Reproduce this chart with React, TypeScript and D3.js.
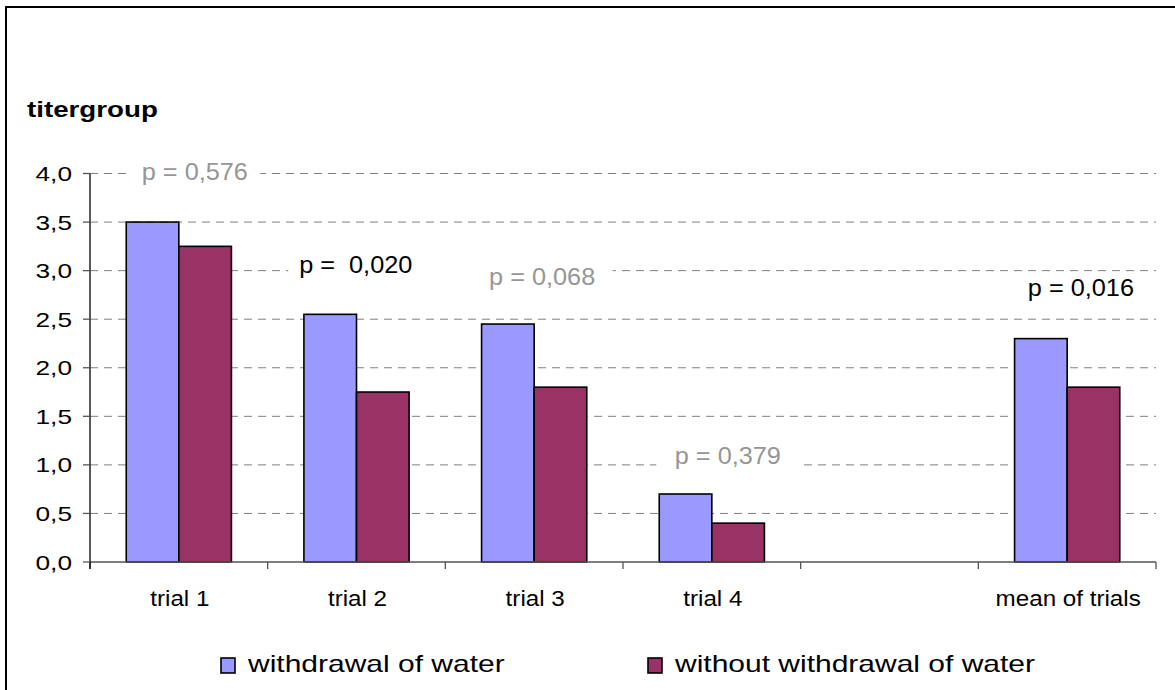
import React from "react";
import * as d3 from "d3";

const categories = ["trial 1", "trial 2", "trial 3", "trial 4", "", "mean of trials"];
const seriesNames = ["withdrawal of water", "without withdrawal of water"];
const withdrawal = [3.5, 2.55, 2.45, 0.7, null, 2.3];
const withoutWithdrawal = [3.25, 1.75, 1.8, 0.4, null, 1.8];
const yTicks = [0, 0.5, 1, 1.5, 2, 2.5, 3, 3.5, 4];
const yTickLabels = ["0,0", "0,5", "1,0", "1,5", "2,0", "2,5", "3,0", "3,5", "4,0"];
const yTitle = "titergroup";

const pLabels = ["p = 0,576", "p =  0,020", "p = 0,068", "p = 0,379", "p = 0,016"];
const pCategories = ["trial 1", "trial 2", "trial 3", "trial 4", "mean of trials"];
const pLevels = [4.02, 3.06, 2.94, 1.095, 2.82];
const pSignificant = [false, true, false, false, true];

// layout (pixels)
const W = 1175, H = 690;
const PLOT = { left: 90, right: 1156, top: 173.5, bottom: 562 };
const pDx = [16, -0.75, 8, 16, 13.75];
const pBoxPad = [[13, 12], [14, 68], [14, 17], [18, 17], [10, 17]];
const colors = ["#9999FF", "#993366"];
const FONT = "'Liberation Sans', Arial, Helvetica, sans-serif";

function SText({ x, y, sx = 1, size, anchor = "start", fill = "#000", weight = "normal", dy = "0", children }: any) {
  return (
    <text
      transform={`translate(${x},${y}) scale(${sx},1)`}
      fontSize={size}
      fontFamily={FONT}
      fontWeight={weight}
      textAnchor={anchor}
      fill={fill}
      dy={dy}
      style={{ whiteSpace: "pre" }}
    >
      {children}
    </text>
  );
}

export default function App() {
  const x = d3.scaleBand<string>().domain(categories).range([PLOT.left, PLOT.right]).padding(0);
  const y = d3.scaleLinear().domain([0, 4]).range([PLOT.bottom, PLOT.top]);
  const bw = x.bandwidth();
  const barW = bw * 0.296;
  const xInner = d3.scaleBand<string>().domain(seriesNames).range([0, 2 * barW]).padding(0);
  const groupOff = (bw - 2 * barW) / 2;
  const series = [withdrawal, withoutWithdrawal];

  const boundaries = categories.map((c) => x(c) as number).concat([PLOT.right]);

  const pTextW = 107;
  const pSize = 23;
  const pSx = 1.1;

  return (
    <svg width={W} height={H} style={{ position: "absolute", left: 0, top: 0, background: "#fff" }}>
      <rect x={0} y={0} width={W} height={H} fill="#fff" />
      <rect x={6} y={7} width={W + 20} height={H + 20} fill="none" stroke="#000" strokeWidth={2} />

      {/* gridlines */}
      {yTicks.filter((t) => t > 0).map((t) => (
        <line key={"g" + t} x1={PLOT.left} x2={PLOT.right} y1={y(t)} y2={y(t)} stroke="#808080" strokeWidth={1} strokeDasharray="8,6" />
      ))}

      {/* p-value boxes */}
      {pLabels.map((lab, i) => {
        const cx = (x(pCategories[i]) as number) + bw / 2 + pDx[i];
        const cy = y(pLevels[i]);
        return (
          <rect key={"pb" + i} x={cx - pTextW / 2 - pBoxPad[i][0]} y={cy - 12} width={pTextW + pBoxPad[i][0] + pBoxPad[i][1]} height={24} fill="#fff" />
        );
      })}
      {pLabels.map((lab, i) => {
        const cx = (x(pCategories[i]) as number) + bw / 2 + pDx[i];
        const cy = y(pLevels[i]);
        return (
          <SText key={"pt" + i} x={cx} y={cy} dy="0.36em" sx={pSx} size={pSize} anchor="middle" fill={pSignificant[i] ? "#000" : "#969696"}>
            {lab}
          </SText>
        );
      })}

      {/* bars */}
      {series.map((vals, si) =>
        vals.map((v, ci) =>
          v == null ? null : (
            <rect
              key={`b${si}-${ci}`}
              x={(x(categories[ci]) as number) + groupOff + (xInner(seriesNames[si]) as number)}
              y={y(v)}
              width={xInner.bandwidth()}
              height={y(0) - y(v)}
              fill={colors[si]}
              stroke="#000"
              strokeWidth={1.6}
            />
          )
        )
      )}

      {/* x axis */}
      <line x1={PLOT.left} x2={PLOT.right} y1={y(0)} y2={y(0)} stroke="#555" strokeWidth={1.5} />
      {boundaries.map((bx, i) => (
        <line key={"xt" + i} x1={bx} x2={bx} y1={y(0)} y2={y(0) + 7} stroke="#555" strokeWidth={1.3} />
      ))}
      {/* y axis */}
      <line x1={PLOT.left} x2={PLOT.left} y1={y(4)} y2={y(0) + 7} stroke="#000" strokeWidth={1.3} />
      {yTicks.map((t) => (
        <line key={"yt" + t} x1={PLOT.left - 7} x2={PLOT.left} y1={y(t)} y2={y(t)} stroke="#555" strokeWidth={1.3} />
      ))}
      {yTicks.map((t, i) => (
        <SText key={"yl" + t} x={72} y={y(t)} dy="0.36em" sx={1.25} size={21} anchor="end">
          {yTickLabels[i]}
        </SText>
      ))}
      {categories.map((c) => (
        <SText key={"xl" + c} x={(x(c) as number) + bw / 2 + 1} y={606} sx={1.1} size={22} anchor="middle">
          {c}
        </SText>
      ))}

      {/* title */}
      <SText x={27} y={117} sx={1.26} size={22} weight="bold">{yTitle}</SText>

      {/* legend */}
      <rect x={221} y={658} width={14} height={15} fill={colors[0]} stroke="#000" strokeWidth={1.6} />
      <SText x={248} y={672} sx={1.25} size={24}>{seriesNames[0]}</SText>
      <rect x={648} y={658} width={14} height={15} fill={colors[1]} stroke="#000" strokeWidth={1.6} />
      <SText x={675} y={672} sx={1.25} size={24}>{seriesNames[1]}</SText>
    </svg>
  );
}
